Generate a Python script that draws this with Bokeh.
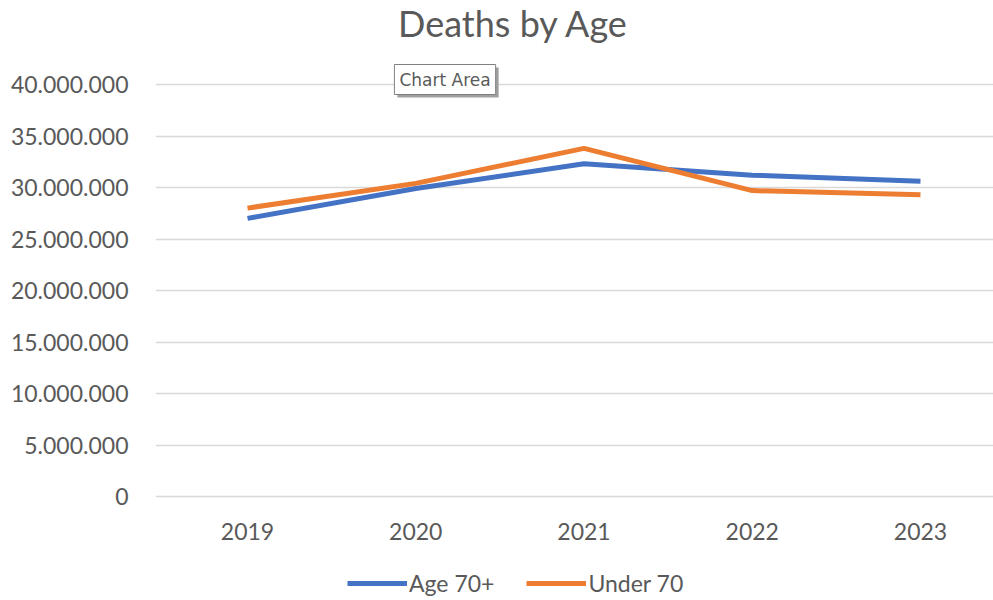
from bokeh.plotting import figure
from bokeh.models import (ColumnDataSource, Range1d, FixedTicker, CustomJSTickFormatter,
                          Label, Legend, LegendItem)
from bokeh.embed import file_html
from bokeh.resources import INLINE

years = [2019, 2020, 2021, 2022, 2023]
age70_plus = [27_000_000, 29_900_000, 32_300_000, 31_200_000, 30_600_000]
under70 = [28_000_000, 30_400_000, 33_800_000, 29_700_000, 29_300_000]
y_ticks = [0, 5_000_000, 10_000_000, 15_000_000, 20_000_000, 25_000_000,
           30_000_000, 35_000_000, 40_000_000]
series_names = ["Age 70+", "Under 70"]
title_text = "Deaths by Age"

FONT = "Lato"
GREY = "#595959"

src = ColumnDataSource(dict(year=years, a=age70_plus, u=under70))

# frame spans the full canvas height; value 0 sits at 496 px, 40M at 84 px
PX = 40_000_000 / 412          # data units per pixel
p = figure(width=993, height=600, output_backend="svg", toolbar_location=None,
           x_range=Range1d(2018.453, 2023.434),
           y_range=Range1d(-104 * PX, 496 * PX),
           min_border_left=155, min_border_right=0, min_border_top=0,
           min_border_bottom=0)
p.outline_line_color = None
p.background_fill_color = "white"
p.border_fill_color = "white"

r1 = p.line("year", "a", source=src, line_color="#4472C4", line_width=5)
r2 = p.line("year", "u", source=src, line_color="#ED7D31", line_width=5)

p.xaxis.ticker = FixedTicker(ticks=years)
p.xaxis.fixed_location = 0
p.yaxis.ticker = FixedTicker(ticks=y_ticks)
p.yaxis.formatter = CustomJSTickFormatter(
    code='return tick.toFixed(0).replace(/\\B(?=(\\d{3})+(?!\\d))/g, ".");')
for ax in (p.xaxis[0], p.yaxis[0]):
    ax.axis_line_color = None
    ax.major_tick_line_color = None
    ax.minor_tick_line_color = None
    ax.major_label_text_font = FONT
    ax.major_label_text_font_size = "23px"
    ax.major_label_text_color = GREY
p.yaxis.major_label_standoff = 21
p.xaxis.major_label_standoff = 20

p.xgrid.grid_line_color = None
p.ygrid.grid_line_color = "#d9d9d9"
p.ygrid.grid_line_width = 1.5

# Title
p.add_layout(Label(x=2020.581, y=474 * PX, text=title_text, text_font=FONT,
                   text_font_size="36px", text_color=GREY, text_align="center",
                   text_baseline="middle"))

# "Chart Area" tooltip
for dx, dy, tc, bg, bc in [(3, -3, "#a0a0a0", "#a0a0a0", None),
                           (0, 0, "#5a5a5a", "white", "#808080")]:
    p.add_layout(Label(x=2019.873, y=417 * PX, text="Chart Area",
                       text_font="DejaVu Sans", text_font_size="17px",
                       text_color=tc, text_align="left", text_baseline="middle",
                       background_fill_color=bg, border_line_color=bc,
                       border_line_width=1, padding=5, x_offset=dx, y_offset=dy))

legend = Legend(items=[LegendItem(label=series_names[0], renderers=[r1]),
                       LegendItem(label=series_names[1], renderers=[r2])],
                orientation="horizontal", location=(192, 3),
                label_text_font=FONT, label_text_font_size="23px",
                label_text_color=GREY, glyph_width=60, glyph_height=20,
                label_standoff=2, spacing=32, border_line_color=None,
                background_fill_alpha=0, padding=2, margin=0)
p.add_layout(legend)

open("out.html", "w").write(file_html(p, INLINE))
